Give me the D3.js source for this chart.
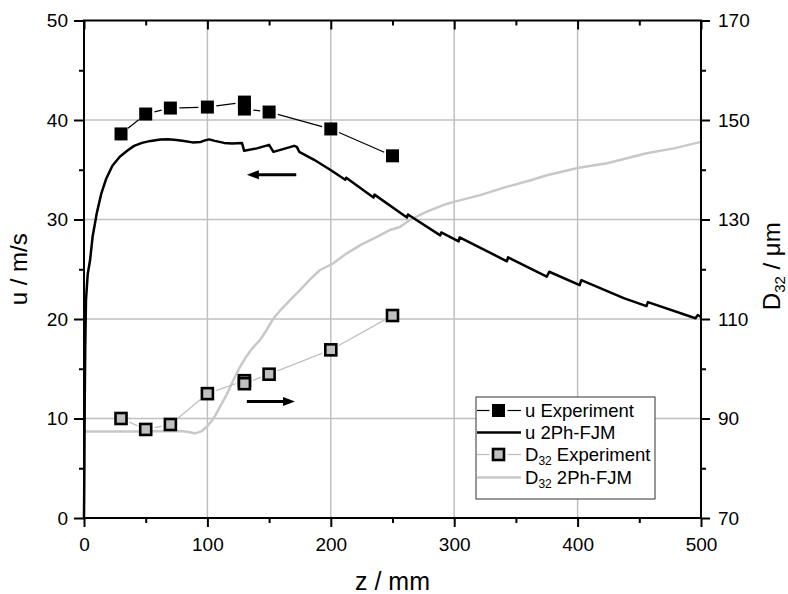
<!DOCTYPE html>
<html>
<head>
<meta charset="utf-8">
<script src="https://cdn.jsdelivr.net/npm/d3@7"></script>
<style>
  html, body { margin: 0; padding: 0; background: #fff; }
  svg { display: block; }
  text { font-family: "Liberation Sans", Arial, Helvetica, sans-serif; fill: #000; }
</style>
</head>
<body>
<svg id="chart" width="788" height="594"></svg>
<script>
// ---------------- DATA ----------------
const xTicks = [0, 100, 200, 300, 400, 500];
const xMinorTicks = [50, 150, 250, 350, 450];
const uTicks = [0, 10, 20, 30, 40, 50];
const uMinorTicks = [5, 15, 25, 35, 45];
const dTicks = [70, 90, 110, 130, 150, 170];
const dMinorTicks = [80, 100, 120, 140, 160];

// u Experiment (left axis)
const uExpZ = [30, 50, 70, 100, 130, 130, 150, 200, 250];
const uExpU = [38.6, 40.6, 41.2, 41.3, 41.8, 41.1, 40.8, 39.1, 36.4];

// D32 Experiment (right axis)
const dExpZ = [30, 50, 70, 100, 130, 130, 150, 200, 250];
const dExpD = [90.0, 87.8, 88.8, 95.0, 97.6, 97.0, 98.9, 103.8, 110.7];

// u 2Ph-FJM model (left axis)
const uModelZ = [0, 0.3, 0.6, 1, 1.6, 3, 4.9, 7, 10.3, 14, 18, 23, 29, 35, 40.6, 47, 54, 62, 68, 75, 81, 88, 94.6, 98, 101.4, 106, 113.5, 120, 128,
  129.8, 140, 150, 153.5, 162, 170.3, 172.5, 174.4, 186.5, 199.5, 211.7, 212.5, 234.6, 235.4, 261.7, 262.5, 288.7, 289.5, 303.6, 304.4,
  342.8, 343.6, 375, 377, 401.7, 403, 437.4, 455.8, 457, 495.5, 497.4, 500];
const uModelU = [0, 5, 12, 17, 21.9, 24.5, 25.9, 28.3, 30.6, 32.6, 34.1, 35.4, 36.3, 36.9, 37.4, 37.7, 37.9, 38.05, 38.06, 38.0, 37.9, 37.75, 37.8, 37.95, 38.05, 37.9, 37.7, 37.65, 37.7,
  36.9, 37.15, 37.5, 36.8, 37.1, 37.4, 37.3, 36.8, 36.0, 35.0, 34.0, 34.2, 32.2, 32.5, 30.2, 30.5, 28.4, 28.7, 27.8, 28.2,
  25.8, 26.2, 24.25, 24.75, 23.4, 23.9, 22.1, 21.3, 21.7, 20.07, 20.4, 20.2];

// D32 2Ph-FJM model (right axis)
const dModelZ = [0, 40, 78, 85, 90, 95, 99.5, 105, 110.3, 116, 121, 126.5, 130.6, 136, 142.7, 148, 153.5, 160, 167, 175, 183, 191, 202, 213, 225,
  237.5, 248, 256, 264, 277, 291, 302, 321, 343, 362, 375, 401, 424, 443, 456, 478, 500];
const dModelD = [87.4, 87.4, 87.5, 87.3, 87.0, 87.4, 88.35, 90.0, 92.4, 95.0, 97.7, 100.4, 102.1, 104.0, 105.8, 107.8, 110.1, 112.0, 113.8, 115.8, 117.9, 119.8, 121.2, 123.2, 125.0,
  126.5, 127.9, 128.5, 129.9, 131.5, 132.9, 133.7, 134.9, 136.6, 137.9, 138.9, 140.4, 141.3, 142.5, 143.3, 144.3, 145.6];

// arrows (data coords)
const arrowLeftZ = [172, 132];  const arrowLeftU = 34.5;
const arrowRightZ = [132, 171]; const arrowRightD = 93.4;

const legendLabels = ["u Experiment", "u 2Ph-FJM", "D32 Experiment", "D32 2Ph-FJM"];

// ---------------- LAYOUT ----------------
const L = 84, R = 701, T = 20.5, B = 518;
const svg = d3.select("#chart");
const x = d3.scaleLinear().domain([0, 500]).range([L, R]);
const yL = d3.scaleLinear().domain([0, 50]).range([B, T]);
const yR = d3.scaleLinear().domain([70, 170]).range([B, T]);

const gridColor = "#c0c0c0";
const grayLine = "#c8c8c8";

// grid
const grid = svg.append("g");
grid.selectAll("line.gx").data(xTicks.filter(d => d > 0 && d < 500)).join("line")
  .attr("x1", d => x(d)).attr("x2", d => x(d)).attr("y1", T).attr("y2", B)
  .attr("stroke", gridColor).attr("stroke-width", 1.5);
grid.selectAll("line.gy").data(uTicks.filter(d => d > 0 && d < 50)).join("line")
  .attr("x1", L).attr("x2", R).attr("y1", d => yL(d)).attr("y2", d => yL(d))
  .attr("stroke", gridColor).attr("stroke-width", 1.5);

// model lines
const uModel = uModelZ.map((z, i) => [z, uModelU[i]]);
const dModel = dModelZ.map((z, i) => [z, dModelD[i]]);
svg.append("path").datum(dModel)
  .attr("d", d3.line().x(d => x(d[0])).y(d => yR(d[1])))
  .attr("fill", "none").attr("stroke", grayLine).attr("stroke-width", 2.5).attr("stroke-linejoin", "round");
svg.append("path").datum(uModel)
  .attr("d", d3.line().x(d => x(d[0])).y(d => yL(d[1])))
  .attr("fill", "none").attr("stroke", "#000").attr("stroke-width", 2.5).attr("stroke-linejoin", "round");

// experiment connecting lines with gaps around symbols
function gapSegments(pts, gap) {
  const segs = [];
  for (let i = 0; i < pts.length - 1; i++) {
    const [x1, y1] = pts[i], [x2, y2] = pts[i + 1];
    const dx = x2 - x1, dy = y2 - y1, len = Math.hypot(dx, dy);
    if (len <= 2 * gap) continue;
    const ux = dx / len, uy = dy / len;
    segs.push([x1 + ux * gap, y1 + uy * gap, x2 - ux * gap, y2 - uy * gap]);
  }
  return segs;
}
const uExpPts = uExpZ.map((z, i) => [x(z), yL(uExpU[i])]);
const dExpPts = dExpZ.map((z, i) => [x(z), yR(dExpD[i])]);

svg.append("g").selectAll("line").data(gapSegments(dExpPts, 9)).join("line")
  .attr("x1", d => d[0]).attr("y1", d => d[1]).attr("x2", d => d[2]).attr("y2", d => d[3])
  .attr("stroke", "#c0c0c0").attr("stroke-width", 1.3);
svg.append("g").selectAll("line").data(gapSegments(uExpPts, 9)).join("line")
  .attr("x1", d => d[0]).attr("y1", d => d[1]).attr("x2", d => d[2]).attr("y2", d => d[3])
  .attr("stroke", "#000").attr("stroke-width", 1.2);

// markers
svg.append("g").selectAll("rect").data(dExpPts).join("rect")
  .attr("x", d => d[0] - 5.5).attr("y", d => d[1] - 5.5).attr("width", 11).attr("height", 11)
  .attr("fill", "#c0c0c0").attr("stroke", "#000").attr("stroke-width", 2.6);
svg.append("g").selectAll("rect").data(uExpPts).join("rect")
  .attr("x", d => d[0] - 6.5).attr("y", d => d[1] - 6.5).attr("width", 13).attr("height", 13)
  .attr("fill", "#000");

// arrows
function arrow(x1, y1, x2, y2) {
  const dir = Math.sign(x2 - x1);
  const g = svg.append("g");
  g.append("line").attr("x1", x1).attr("y1", y1).attr("x2", x2 - dir * 8).attr("y2", y2)
    .attr("stroke", "#000").attr("stroke-width", 3);
  g.append("path")
    .attr("d", `M${x2},${y2} L${x2 - dir * 12},${y2 - 4.5} L${x2 - dir * 12},${y2 + 4.5} Z`)
    .attr("fill", "#000");
}
arrow(x(arrowLeftZ[0]), yL(arrowLeftU), x(arrowLeftZ[1]), yL(arrowLeftU));
arrow(x(arrowRightZ[0]), yR(arrowRightD), x(arrowRightZ[1]), yR(arrowRightD));

// axes
const tickFont = 19;
function styleAxis(g) {
  g.select(".domain").remove();
  g.selectAll(".tick line").attr("stroke", "#000").attr("stroke-width", 2);
  g.selectAll(".tick text").attr("font-size", tickFont).attr("font-family", '"Liberation Sans", Arial, sans-serif').attr("fill", "#000");
}
svg.append("g").attr("transform", `translate(0,${B})`)
  .call(d3.axisBottom(x).tickValues(xTicks).tickSize(9).tickPadding(11).tickFormat(d3.format("d"))).call(styleAxis);
svg.append("g").attr("transform", `translate(0,${B})`)
  .call(d3.axisBottom(x).tickValues(xMinorTicks).tickSize(5).tickFormat("")).call(styleAxis);
svg.append("g").attr("transform", `translate(0,${T})`)
  .call(d3.axisBottom(x).tickValues(xTicks).tickSize(9).tickFormat("")).call(styleAxis);
svg.append("g").attr("transform", `translate(0,${T})`)
  .call(d3.axisBottom(x).tickValues(xMinorTicks).tickSize(5).tickFormat("")).call(styleAxis);
svg.append("g").attr("transform", `translate(${L},0)`)
  .call(d3.axisLeft(yL).tickValues(uTicks).tickSize(10).tickPadding(6).tickFormat(d3.format("d"))).call(styleAxis);
svg.append("g").attr("transform", `translate(${L},0)`)
  .call(d3.axisLeft(yL).tickValues(uMinorTicks).tickSize(5).tickFormat("")).call(styleAxis);
svg.append("g").attr("transform", `translate(${R},0)`)
  .call(d3.axisRight(yR).tickValues(dTicks).tickSize(9).tickPadding(8).tickFormat(d3.format("d"))).call(styleAxis);
svg.append("g").attr("transform", `translate(${R},0)`)
  .call(d3.axisRight(yR).tickValues(dMinorTicks).tickSize(5).tickFormat("")).call(styleAxis);

// frame
svg.append("rect").attr("x", L).attr("y", T).attr("width", R - L).attr("height", B - T)
  .attr("fill", "none").attr("stroke", "#000").attr("stroke-width", 2);

// axis titles
svg.append("text").attr("x", (L + R) / 2).attr("y", 590).attr("text-anchor", "middle")
  .attr("font-size", 25).text("z / mm");
svg.append("text").attr("transform", `translate(27,${(T + B) / 2}) rotate(-90)`).attr("text-anchor", "middle")
  .attr("font-size", 24).text("u / m/s");
const rt = svg.append("text").attr("transform", `translate(780,${(T + B) / 2 - 3}) rotate(-90)`).attr("text-anchor", "middle")
  .attr("font-size", 24);
rt.append("tspan").text("D");
rt.append("tspan").attr("font-size", 15).attr("dy", 5).text("32");
rt.append("tspan").attr("dy", -5).text(" / μm");

// legend
const lg = svg.append("g");
lg.append("rect").attr("x", 476).attr("y", 397).attr("width", 179).attr("height", 102)
  .attr("fill", "#fff").attr("stroke", "#333").attr("stroke-width", 1);
const rowsY = [410.5, 432.5, 454.5, 477.5];
const lx1 = 477, lx2 = 521, lmid = 498.5;
// row 1: u Experiment
lg.append("line").attr("x1", lx1).attr("x2", lmid - 9).attr("y1", rowsY[0]).attr("y2", rowsY[0]).attr("stroke", "#000").attr("stroke-width", 1.2);
lg.append("line").attr("x1", lmid + 9).attr("x2", lx2).attr("y1", rowsY[0]).attr("y2", rowsY[0]).attr("stroke", "#000").attr("stroke-width", 1.2);
lg.append("rect").attr("x", lmid - 6.5).attr("y", rowsY[0] - 6.5).attr("width", 13).attr("height", 13).attr("fill", "#000");
// row 2: u 2Ph-FJM
lg.append("line").attr("x1", lx1).attr("x2", lx2).attr("y1", rowsY[1]).attr("y2", rowsY[1]).attr("stroke", "#000").attr("stroke-width", 2.5);
// row 3: D32 Experiment
lg.append("line").attr("x1", lx1).attr("x2", lmid - 9).attr("y1", rowsY[2]).attr("y2", rowsY[2]).attr("stroke", "#c0c0c0").attr("stroke-width", 1.3);
lg.append("line").attr("x1", lmid + 9).attr("x2", lx2).attr("y1", rowsY[2]).attr("y2", rowsY[2]).attr("stroke", "#c0c0c0").attr("stroke-width", 1.3);
lg.append("rect").attr("x", lmid - 5.5).attr("y", rowsY[2] - 5.5).attr("width", 11).attr("height", 11)
  .attr("fill", "#c0c0c0").attr("stroke", "#000").attr("stroke-width", 2.6);
// row 4: D32 2Ph-FJM
lg.append("line").attr("x1", lx1).attr("x2", lx2).attr("y1", rowsY[3]).attr("y2", rowsY[3]).attr("stroke", grayLine).attr("stroke-width", 2.5);

legendLabels.forEach((lab, i) => {
  const t = lg.append("text").attr("x", 525).attr("y", rowsY[i] + 6).attr("font-size", 18.5);
  if (lab.startsWith("D32")) {
    t.append("tspan").text("D");
    t.append("tspan").attr("font-size", 12).attr("dy", 4).text("32");
    t.append("tspan").attr("dy", -4).text(lab.slice(3));
  } else {
    t.text(lab);
  }
});
</script>
</body>
</html>
